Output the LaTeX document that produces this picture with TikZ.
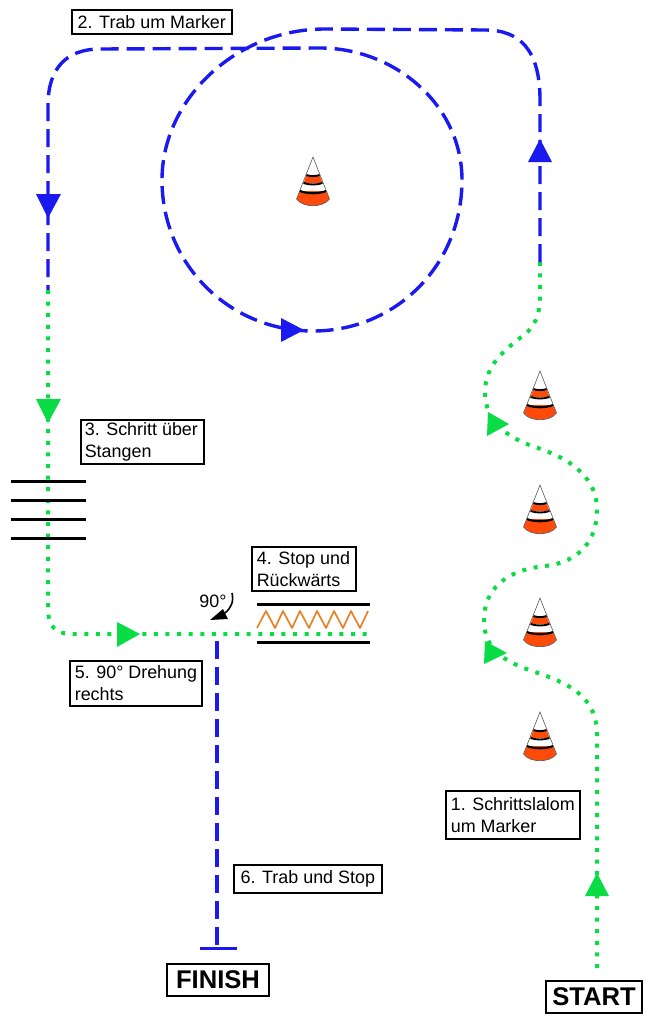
\documentclass[tikz,border=0pt]{standalone}
\usepackage{fontspec}
\setmainfont{Liberation Sans}
\usetikzlibrary{calc}
\definecolor{bluepath}{RGB}{25,25,240}
\definecolor{greenpath}{RGB}{10,220,70}
\definecolor{conered}{RGB}{255,75,10}
\definecolor{zigzag}{RGB}{230,130,40}
\tikzset{
  x=1pt,y=-1pt,
  label box/.style={draw=black,line width=1.6pt,fill=white,inner sep=0pt,anchor=north west,align=left,font=\fontsize{17.9}{22}\selectfont},
  big box/.style={draw=black,line width=1.8pt,fill=white,inner sep=0pt,anchor=center,font=\bfseries\fontsize{25.6}{28}\selectfont},
  trot/.style={draw=bluepath,line width=3.4pt,dash pattern=on 18pt off 8pt},
  walk/.style={draw=greenpath,line width=4pt,dash pattern=on 4pt off 7.6pt},
  pole/.style={draw=black,line width=3pt},
  pics/markercone/.style={code={
    \fill[white] (0,0) -- (-16.5,42) -- (16.5,42) -- cycle;
    \fill[conered] (-6.5,18) -- (6.5,18) -- (9.5,26) -- (-9.5,26) -- cycle;
    \fill[conered] (-13,34) -- (13,34) -- (16.5,42) .. controls (10,51) and (-10,51) .. (-16.5,42) -- cycle;
    \draw[gray!70!black,line width=.6pt] (-16.5,42) -- (0,0) -- (16.5,42) .. controls (10,51) and (-10,51) .. (-16.5,42);
    \draw[black,line width=1.9pt] (-6.5,18) .. controls (-3,19.5) and (3,19.5) .. (6.5,18);
    \draw[black,line width=1.9pt] (-9.5,26) .. controls (-4,28) and (4,28) .. (9.5,26);
    \draw[black,line width=2.1pt] (-13,34) .. controls (-6,37) and (6,37) .. (13,34);
  }}
}
\begin{document}
\begin{tikzpicture}
\useasboundingbox (0,0) rectangle (646,1015);
% cones
\pic at (313,157) {markercone};
\pic at (540,371) {markercone};
\pic at (540,485) {markercone};
\pic at (540,598) {markercone};
\pic at (540,712) {markercone};
% named way-points
\coordinate (startend) at (597,968);
\coordinate (walkTop) at (540,262);
\coordinate (leftT) at (48,290);
\coordinate (stopEnd) at (370,634);
\coordinate (turn) at (217,634);
\coordinate (finishbar) at (217,948);
% green slalom
\draw[walk] (startend) -- (597,735)
  .. controls (597,700) and (575,685) .. (535,672)
  .. controls (505,662) and (484,650) .. (484,620)
  .. controls (484,590) and (505,570) .. (545,566)
  .. controls (580,562) and (597,540) .. (597,510)
  .. controls (597,480) and (575,460) .. (535,447)
  .. controls (505,437) and (485,420) .. (485,392)
  .. controls (485,365) and (505,350) .. (520,338)
  .. controls (535,328) and (540,315) .. (540,295)
  -- (walkTop);
% blue trot
\draw[trot] (walkTop) -- (540,100)
  .. controls (540,50) and (520,30) .. (485,30)
  -- (325,29)
  .. controls (235,29) and (162,100) .. (162,180)
  .. controls (162,265) and (230,331) .. (313,331)
  .. controls (396,331) and (462,265) .. (462,180)
  .. controls (462,105) and (395,48) .. (320,48)
  -- (100,49)
  .. controls (65,49) and (48,70) .. (48,105)
  -- (leftT);
% green left
\draw[walk] (leftT) -- (48,608) .. controls (48,626) and (55,634) .. (72,634) -- (stopEnd);
% blue finish
\draw[trot] (217,641) -- (finishbar);
\draw[bluepath,line width=3pt] (200,948) -- (237,948);
% poles
\foreach \y in {481,500,519,538} \draw[pole] (11,\y) -- (86,\y);
\draw[pole] (257,604) -- (370,604);
\draw[pole] (257,642) -- (370,642);
\draw[zigzag,line width=1.7pt,line join=round] (257,628) -- (266,611) -- (275,628) -- (283,611) -- (292,628) -- (300,611) -- (309,628) -- (317,611) -- (326,628) -- (334,611) -- (343,628) -- (351,611) -- (360,628) -- (368,611);
% arrowheads
\fill[bluepath] (540,139) -- (552,162) -- (528,162) -- cycle;
\fill[bluepath] (48,218) -- (36,194) -- (61,194) -- cycle;
\fill[bluepath] (304,330) -- (281,318) -- (281,342) -- cycle;
\fill[greenpath] (48,423) -- (36,399) -- (61,399) -- cycle;
\fill[greenpath] (140,634) -- (117,622) -- (117,647) -- cycle;
\fill[greenpath] (597,873) -- (609,896) -- (585,896) -- cycle;
\fill[greenpath] (509,424) -- (488,412) -- (487,436) -- cycle;
\fill[greenpath] (507,653) -- (485,641) -- (484,664) -- cycle;
% turn arrow
\draw[black,line width=1.6pt] (232,593) .. controls (234,602) and (231,608) .. (225,613);
\fill[black] (210,620) -- (223,609) -- (228,619) -- cycle;
\node[anchor=center,font=\fontsize{17.9}{20}\selectfont] (deg) at (213,601) {90°};
% labels
\node[label box,minimum width=160pt,minimum height=24pt] (l2) at (71,9) {2. Trab um Marker};
\node[label box,minimum width=123pt,minimum height=44pt] (l3) at (80,419) {\hspace{3pt}\parbox[c]{118pt}{3. Schritt über\\Stangen}};
\node[label box,minimum width=104pt,minimum height=44pt] (l4) at (251,546) {\hspace{4pt}\parbox[c]{98pt}{4. Stop und\\Rückwärts}};
\node[label box,minimum width=132pt,minimum height=45pt] (l5) at (69,660) {\hspace{4pt}\parbox[c]{126pt}{5. 90° Drehung\\rechts}};
\node[label box,minimum width=148pt,minimum height=28pt] (l6) at (233,864) {6. Trab und Stop};
\node[label box,minimum width=134pt,minimum height=48pt] (l1) at (445,790) {\hspace{4pt}\parbox[c]{128pt}{1. Schrittslalom\\um Marker}};
\node[big box,minimum width=102pt,minimum height=32pt] (finish) at (218,980) {FINISH};
\node[big box,minimum width=96pt,minimum height=32pt] (start) at (594,997) {START};
\end{tikzpicture}
\end{document}
